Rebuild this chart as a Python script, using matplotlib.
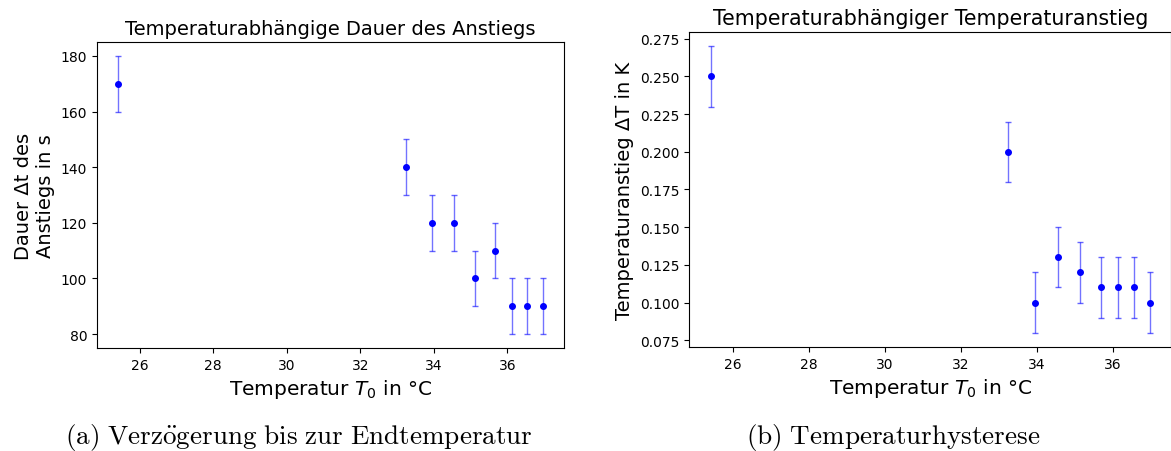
import numpy as np
import matplotlib.pyplot as plt

# Messwerte
T0 = [25.42, 33.23, 33.95, 34.56, 35.13, 35.67, 36.12, 36.54, 36.96]
dauer = [170, 140, 120, 120, 100, 110, 90, 90, 90]
dauer_err = [10, 10, 10, 10, 10, 10, 10, 10, 10]
anstieg = [0.25, 0.20, 0.10, 0.13, 0.12, 0.11, 0.11, 0.11, 0.10]
anstieg_err = [0.02, 0.02, 0.02, 0.02, 0.02, 0.02, 0.02, 0.02, 0.02]

plt.rcParams['mathtext.fontset'] = 'dejavusans'

fig = plt.figure(figsize=(11.71, 4.52), dpi=100)

def plot_errorbars(ax, x, y, yerr):
    eb = ax.errorbar(x, y, yerr=yerr, fmt='o', color='b', markersize=4,
                     ecolor='b', elinewidth=1, capsize=2, capthick=1)
    for line in eb[1]:
        line.set_alpha(0.6)
        line.set_color('#202060')
    for coll in eb[2]:
        coll.set_alpha(0.55)

# (a) Dauer des Anstiegs
ax1 = fig.add_axes([0.0828, 0.2279, 0.3988, 0.677])
plot_errorbars(ax1, T0, dauer, dauer_err)
ax1.set_title("Temperaturabhängige Dauer des Anstiegs", fontsize=14)
ax1.set_xlabel("Temperatur $T_0$ in °C", fontsize=14.5)
ax1.set_ylabel("Dauer Δt des\nAnstiegs in s", fontsize=14)
ax1.set_xticks([26, 28, 30, 32, 34, 36])
ax1.tick_params(labelsize=10)

# (b) Temperaturanstieg
ax2 = fig.add_axes([0.5884, 0.2301, 0.412, 0.697])
plot_errorbars(ax2, T0, anstieg, anstieg_err)
ax2.set_title("Temperaturabhängiger Temperaturanstieg", fontsize=14.8)
ax2.set_xlabel("Temperatur $T_0$ in °C", fontsize=14.5)
ax2.set_ylabel("Temperaturanstieg ΔT in K", fontsize=14)
ax2.set_xticks([26, 28, 30, 32, 34, 36])
ax2.yaxis.set_major_formatter(plt.FormatStrFormatter('%.3f'))
ax2.tick_params(labelsize=10)

# Bildunterschriften im LaTeX-Stil
cap_kw = dict(fontsize=19.5, math_fontfamily='cm', ha='center', va='center')
fig.text(0.2555, 0.033, r"$\mathrm{(a)\ Verz\ddot{o}gerung\ bis\ zur\ Endtemperatur}$", **cap_kw)
fig.text(0.7626, 0.033, r"$\mathrm{(b)\ Temperaturhysterese}$", **cap_kw)

fig.savefig("out.png", dpi=100)
